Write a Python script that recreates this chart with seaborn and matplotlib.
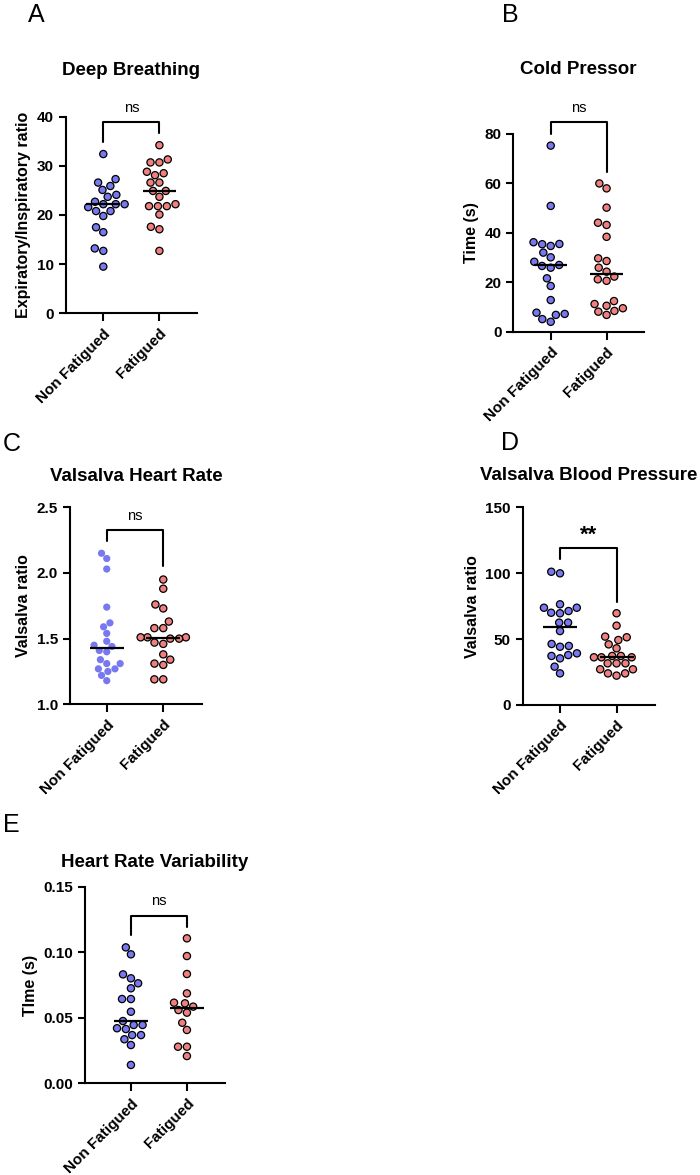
import numpy as np
import pandas as pd
import seaborn as sns
import matplotlib.pyplot as plt
from matplotlib.ticker import FormatStrFormatter

# groups
groups = ["Non Fatigued", "Fatigued"]
blue = "#7878F0"
red = "#F08080"

# A - Deep Breathing (E/I ratio)
deep_nf = [32.4, 27.3, 26.6, 25.9, 25.1, 24.1, 23.7, 22.7, 22.2, 22.2, 22.2,
           21.6, 20.8, 20.8, 19.8, 17.5, 16.5, 13.2, 12.7, 9.5]
deep_f = [34.2, 31.3, 30.7, 30.7, 28.8, 28.5, 28.1, 26.6, 26.6, 24.9, 24.9,
          23.7, 21.8, 21.8, 21.8, 22.2, 20.1, 17.6, 17.1, 12.7]

# B - Cold Pressor (s)
cold_nf = [75.3, 50.9, 35.4, 34.7, 35.5, 36.2, 32.0, 30.1, 28.3, 27.0, 25.9,
           26.6, 21.6, 18.5, 12.8, 6.8, 7.7, 7.2, 4.0, 5.1]
cold_f = [58.0, 60.0, 50.2, 43.2, 44.1, 38.4, 29.7, 28.6, 25.9, 24.3, 20.6,
          21.2, 22.3, 12.4, 9.5, 6.8, 10.5, 8.1, 11.2, 8.4]

# C - Valsalva Heart Rate
vhr_nf = [2.15, 2.11, 2.03, 1.74, 1.62, 1.59, 1.54, 1.48, 1.45, 1.44, 1.41,
          1.40, 1.34, 1.31, 1.31, 1.27, 1.25, 1.27, 1.22, 1.18]
vhr_f = [1.95, 1.88, 1.76, 1.73, 1.63, 1.58, 1.58, 1.51, 1.51, 1.50, 1.51,
         1.50, 1.47, 1.46, 1.38, 1.34, 1.31, 1.30, 1.19, 1.19]

# D - Valsalva Blood Pressure
vbp_nf = [101.1, 99.9, 71.3, 73.8, 73.8, 76.4, 69.6, 70.0, 62.5, 62.5, 56.1,
          44.2, 44.8, 46.3, 37.9, 35.4, 37.2, 39.2, 29.1, 24.0]
vbp_f = [69.6, 60.2, 49.3, 51.4, 51.9, 46.0, 43.0, 37.2, 36.2, 37.2, 36.2,
         36.2, 31.6, 31.6, 31.6, 27.1, 27.1, 22.3, 24.0, 24.0]

# E - Heart Rate Variability (s)
hrv_nf = [0.1037, 0.0984, 0.0831, 0.0801, 0.0763, 0.0725, 0.0643, 0.0643,
          0.0546, 0.0475, 0.0414, 0.0445, 0.0445, 0.0420, 0.0336, 0.0368,
          0.0368, 0.0292, 0.0140]
hrv_f = [0.1106, 0.0971, 0.0834, 0.0686, 0.0585, 0.0610, 0.0615, 0.0539,
         0.0559, 0.0462, 0.0407, 0.0279, 0.0279, 0.0208]

titles = ["Deep Breathing", "Cold Pressor", "Valsalva Heart Rate",
          "Valsalva Blood Pressure", "Heart Rate Variability"]
ylabels = ["Expiratory/Inspiratory ratio", "Time (s)", "Valsalva ratio",
           "Valsalva ratio", "TIme (s)"]
letters = ["A", "B", "C", "D", "E"]
yticks = [[0, 10, 20, 30, 40], [0, 20, 40, 60, 80], [1.0, 1.5, 2.0, 2.5],
          [0, 50, 100, 150], [0.00, 0.05, 0.10, 0.15]]
yfmt = ["%d", "%d", "%.1f", "%d", "%.2f"]
sig_labels = ["ns", "ns", "ns", "**", "ns"]
# bracket: left leg bottom, top, right leg bottom, label y
brackets = [(34.9, 39.0, 36.7, 41.7), (80.0, 84.7, 64.7, 90.4),
            (2.24, 2.327, 2.05, 2.43), (110.5, 119.4, 78.4, 129.0),
            (0.1131, 0.1276, 0.1195, 0.1393)]

panels = [(deep_nf, deep_f), (cold_nf, cold_f), (vhr_nf, vhr_f),
          (vbp_nf, vbp_f), (hrv_nf, hrv_f)]

# layout in pixels: left, right, top, bottom
W, H = 700, 1175
boxes = [(65.7, 197, 116.7, 313.3), (513.3, 644, 134, 331.7),
         (70, 201.7, 507.3, 704.3), (522.7, 655, 507.3, 705),
         (85, 225, 886.7, 1083.3)]
xlims = [(-0.67, 1.67), (-0.67, 1.67), (-0.65, 1.68), (-0.66, 1.68),
         (-0.82, 1.68)]
title_pads = [30, 43, 19, 19.5, 14.5]
letter_pos = [(36, 15), (510, 15), (12, 444), (510, 443), (11, 825)]

sns.set_theme(style="ticks")
plt.rcParams["font.family"] = ["Liberation Sans", "DejaVu Sans"]
for key in ["text.color", "axes.labelcolor", "xtick.color", "ytick.color",
            "axes.edgecolor"]:
    plt.rcParams[key] = "black"

fig = plt.figure(figsize=(W / 100, H / 100), dpi=100)

for i, (nf, f) in enumerate(panels):
    l, r, t, b = boxes[i]
    ax = fig.add_axes([l / W, 1 - b / H, (r - l) / W, (b - t) / H])
    df = pd.DataFrame({
        "group": [groups[0]] * len(nf) + [groups[1]] * len(f),
        "value": nf + f,
    })
    sns.swarmplot(data=df, x="group", y="value", hue="group", order=groups,
                  palette=[blue, red], size=5.2, linewidth=0.9,
                  edgecolor="black", legend=False, ax=ax)
    if i == 2:
        # non fatigued dots have no outline in this panel
        ax.collections[0].set_linewidth(0)
    sns.boxplot(data=df, x="group", y="value", order=groups, width=0.6,
                showbox=False, showcaps=False, showfliers=False,
                whiskerprops={"visible": False},
                medianprops={"color": "black", "linewidth": 1.6, "zorder": 5},
                ax=ax)

    ax.set_ylim(yticks[i][0], yticks[i][-1])
    ax.set_yticks(yticks[i])
    ax.yaxis.set_major_formatter(FormatStrFormatter(yfmt[i]))
    ax.set_xlim(*xlims[i])
    ax.set_xlabel("")
    ax.set_ylabel(ylabels[i], fontsize=11.5, fontweight="bold")
    ax.set_title(titles[i], fontsize=13.5, fontweight="bold", pad=title_pads[i])
    sns.despine(ax=ax)
    for s in ["left", "bottom"]:
        ax.spines[s].set_linewidth(1.5)
    ax.tick_params(axis="both", width=1.5, length=5, labelsize=11)
    ax.tick_params(axis="x", length=6)
    for lab in ax.get_yticklabels():
        lab.set_fontweight("bold")
    ax.set_xticks([0, 1])
    ax.set_xticklabels(groups, rotation=45, ha="right",
                       rotation_mode="anchor", fontweight="bold", fontsize=11)

    lb, top, rb, ty = brackets[i]
    ax.plot([0, 0, 1, 1], [lb, top, top, rb], color="black", lw=1.5,
            clip_on=False)
    if sig_labels[i] == "**":
        ax.text(0.5, ty, "**", ha="center", va="center", fontsize=16,
                fontweight="bold", clip_on=False)
    else:
        ax.text(0.5, ty, "ns", ha="center", va="center", fontsize=10.5,
                clip_on=False)

    lx, ly = letter_pos[i]
    fig.text(lx / W, 1 - ly / H, letters[i], ha="center", va="center",
             fontsize=18)

fig.savefig("out.png", dpi=100)
